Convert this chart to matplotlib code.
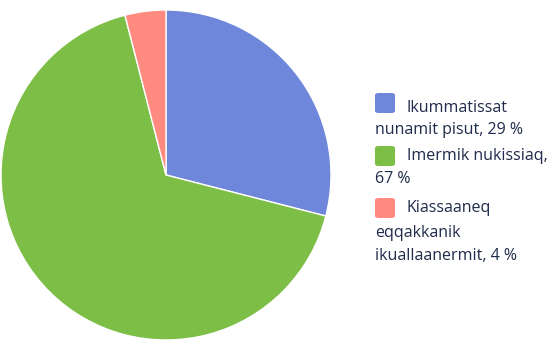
import matplotlib
matplotlib.use("Agg")
import matplotlib.pyplot as plt
from matplotlib.patches import FancyBboxPatch

# data
labels = ["Ikummatissat\nnunamit pisut, 29 %",
          "Imermik nukissiaq,\n67 %",
          "Kiassaaneq\neqqakkanik\nikuallaanermit, 4 %"]
values = [29, 67, 4]
colors = ["#6E87DA", "#7DBE47", "#FF8A80"]

W, H = 553, 350
fig = plt.figure(figsize=(W / 100, H / 100), dpi=100)

# pie
cx, cy, r = 166, 175, 165
ax = fig.add_axes([(cx - r) / W, (H - cy - r) / H, 2 * r / W, 2 * r / H])
ax.pie(values, colors=colors, startangle=90, counterclock=False,
       wedgeprops=dict(edgecolor="white", linewidth=1))
ax.set_xlim(-1, 1)
ax.set_ylim(-1, 1)
ax.set_aspect("equal")
ax.axis("off")

# legend drawn by hand
txt_color = "#1F2B4A"
font = "Open Sans"
box_tops = [92, 145, 197]
baselines = [[112, 134], [160, 183], [212, 237, 260]]
for lab, col, top, bls in zip(labels, colors, box_tops, baselines):
    box = FancyBboxPatch(((375) / W, 1 - (top + 21) / H), 20 / W, 20 / H,
                         boxstyle="round,pad=0,rounding_size=0.006",
                         transform=fig.transFigure, facecolor=col,
                         edgecolor="none")
    fig.add_artist(box)
    lines = lab.split("\n")
    for i, (line, bl) in enumerate(zip(lines, bls)):
        x = 407 if i == 0 else 375
        fig.text(x / W, 1 - bl / H, line, fontsize=11.5, color=txt_color,
                 family=font, va="baseline", ha="left")

fig.savefig("out.png", dpi=100)
